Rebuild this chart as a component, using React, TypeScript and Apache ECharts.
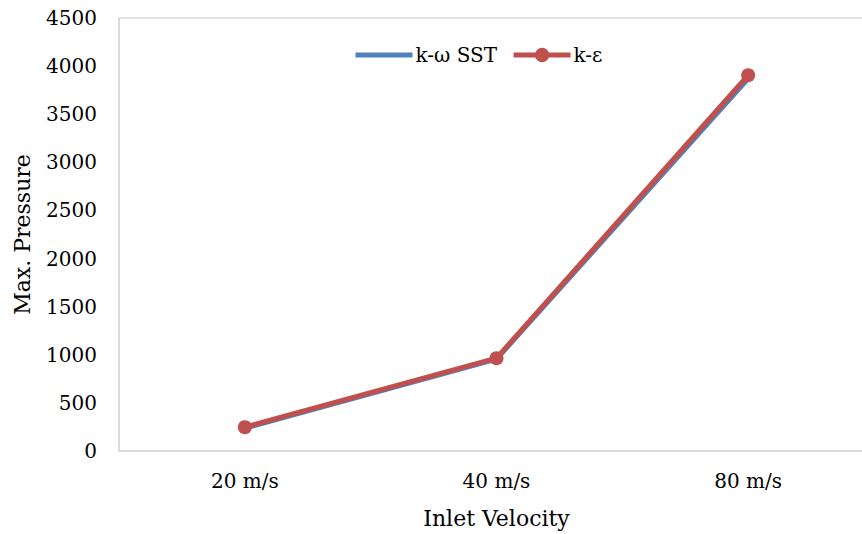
import React, { useEffect, useRef } from "react";
import * as echarts from "echarts";

const categories = ["20 m/s", "40 m/s", "80 m/s"];
const sstValues = [238, 955, 3870];
const keValues = [248, 965, 3905];
const yTicks = [0, 500, 1000, 1500, 2000, 2500, 3000, 3500, 4000, 4500];

const FONT = "DejaVu Serif";

export default function App() {
  const ref = useRef<HTMLDivElement>(null);
  useEffect(() => {
    if (!ref.current) return;
    const chart = echarts.init(ref.current, null, { renderer: "svg" });
    chart.setOption({
      animation: false,
      textStyle: { fontFamily: FONT },
      legend: {
        top: 40,
        left: 348,
        itemWidth: 57,
        itemHeight: 18,
        itemGap: 14,
        lineStyle: { width: 5 },
        textStyle: { fontFamily: FONT, fontSize: 20, color: "#000", padding: [0, 0, 0, -2] },
        data: [
          { name: "k-ω SST", itemStyle: { opacity: 0 } },
          { name: "k-ε" },
        ],
      },
      grid: {
        left: 119,
        top: 18,
        width: 755,
        height: 433,
        show: true,
        borderColor: "#d9d9d9",
        borderWidth: 1.5,
        outerBoundsMode: "none",
        containLabel: false,
      },
      xAxis: {
        type: "category",
        data: categories,
        boundaryGap: true,
        name: "Inlet Velocity",
        nameLocation: "middle",
        nameGap: 56,
        nameTextStyle: { fontFamily: FONT, fontSize: 22, color: "#000" },
        axisLine: { lineStyle: { color: "#d9d9d9", width: 1.5 } },
        axisTick: { show: false },
        axisLabel: { fontFamily: FONT, fontSize: 20, color: "#000", margin: 20 },
        splitLine: { show: false },
      },
      yAxis: {
        type: "value",
        min: yTicks[0],
        max: yTicks[yTicks.length - 1],
        interval: 500,
        name: "Max. Pressure",
        nameLocation: "middle",
        nameGap: 86,
        nameTextStyle: { fontFamily: FONT, fontSize: 22, color: "#000" },
        axisLine: { show: true, lineStyle: { color: "#d9d9d9", width: 1.5 } },
        axisTick: { show: false },
        axisLabel: {
          fontFamily: FONT,
          fontSize: 20,
          color: "#000",
          margin: 22,
          formatter: (v: number) => String(v),
        },
        splitLine: { show: false },
      },
      series: [
        {
          name: "k-ω SST",
          type: "line",
          data: sstValues,
          symbol: "none",
          lineStyle: { color: "#4f81bd", width: 5 },
          itemStyle: { color: "#4f81bd" },
        },
        {
          name: "k-ε",
          type: "line",
          data: keValues,
          symbol: "circle",
          symbolSize: 14,
          lineStyle: { color: "#c0504d", width: 5 },
          itemStyle: { color: "#c0504d" },
        },
      ],
    });
    return () => chart.dispose();
  }, []);
  return <div ref={ref} style={{ width: 862, height: 534, position: "absolute", left: 0, top: 0 }} />;
}
